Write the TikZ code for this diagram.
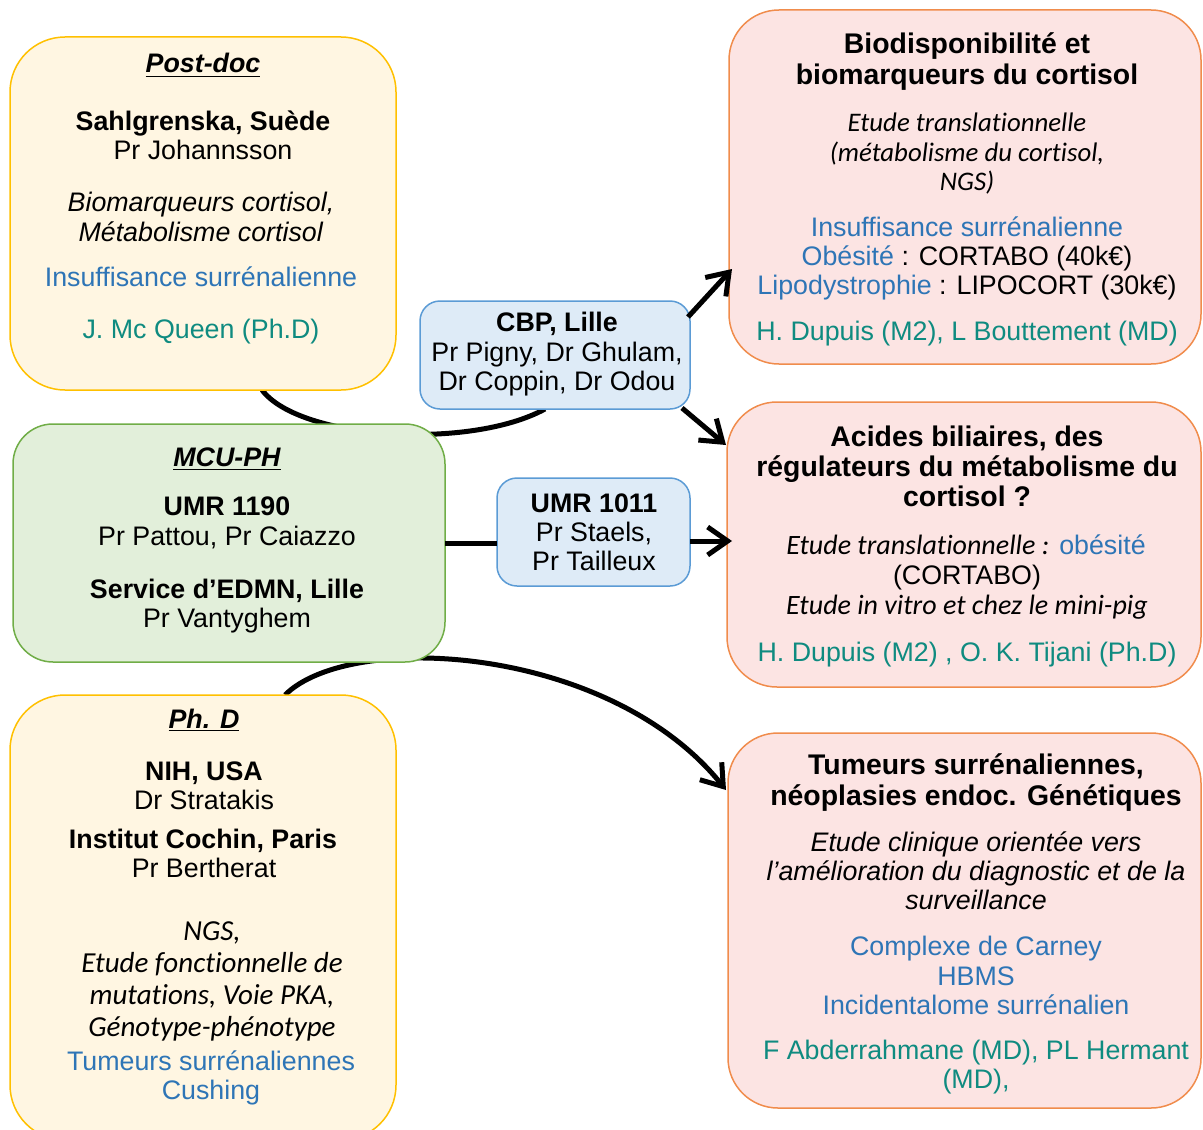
\documentclass[tikz,border=0pt]{standalone}
\usepackage{fontspec}
\setmainfont{Liberation Sans}
\newfontfamily\calfont{Carlito}[Ligatures=NoCommon]
\usetikzlibrary{arrows.meta,calc}
\definecolor{yfill}{HTML}{FFF6E2}
\definecolor{ydraw}{HTML}{FFC000}
\definecolor{gfill}{HTML}{E2EFDA}
\definecolor{gdraw}{HTML}{70AD47}
\definecolor{bfill}{HTML}{DEEBF7}
\definecolor{bdraw}{HTML}{5B9BD5}
\definecolor{pfill}{HTML}{FCE4E3}
\definecolor{pdraw}{HTML}{F08C4C}
\definecolor{tblue}{HTML}{2E75B6}
\definecolor{tteal}{HTML}{0F8B80}
\newcommand\fA{\fontsize{13.4pt}{16pt}\selectfont}
\newcommand\fT{\fontsize{14.2pt}{17pt}\selectfont}
\newcommand\fC{\calfont\itshape\fontsize{13.4pt}{16pt}\selectfont}
\newcommand\fCb{\calfont\itshape\fontsize{14.5pt}{17pt}\selectfont}
\newcommand\fCc{\calfont\itshape\fontsize{14pt}{17pt}\selectfont}
\pgfdeclarelayer{bg}
\pgfsetlayers{bg,main}
\begin{document}
\begin{tikzpicture}[x=0.5pt,y=-0.5pt,
  boxbase/.style={rectangle,inner sep=0pt,outer sep=0pt,line width=0.75pt},
  ybox/.style={boxbase,fill=yfill,draw=ydraw,rounded corners=27.5pt},
  gbox/.style={boxbase,fill=gfill,draw=gdraw,rounded corners=20pt},
  bbox/.style={boxbase,fill=bfill,draw=bdraw,rounded corners=10pt},
  pbox/.style={boxbase,fill=pfill,draw=pdraw,rounded corners=25pt},
  tl/.style={anchor=base,inner sep=0pt,outer sep=0pt,font=\fA},
  tt/.style={anchor=base,inner sep=0pt,outer sep=0pt,font=\fT\bfseries},
  conn/.style={line width=2.5pt,black},
  tip/.style={-{Straight Barb[length=10pt,width=14pt]}}]
\useasboundingbox (0,0) rectangle (1203,1129);

% boxes
\node[ybox,minimum width=193pt,minimum height=176.5pt] (pd) at (203,213.5) {};
\node[gbox,minimum width=216pt,minimum height=119pt] (mcu) at (229,543) {};
\node[ybox,minimum width=193pt,minimum height=222.5pt] (phd) at (203,917.5) {};
\node[bbox,minimum width=135pt,minimum height=54pt] (cbp) at (555,355) {};
\node[bbox,minimum width=96.5pt,minimum height=54pt] (umr) at (593.5,532) {};
\node[pbox,minimum width=236pt,minimum height=177pt] (r1) at (965,187) {};
\node[pbox,minimum width=237pt,minimum height=142.5pt] (r2) at (964,544.5) {};
\node[pbox,minimum width=236.5pt,minimum height=187.5pt] (r3) at (964.5,920.5) {};

% connectors behind boxes
\begin{pgfonlayer}{bg}
\draw[conn] ($(pd.south)+(59,0)$) .. controls ($(pd.south)+(97,50)$) and ($(cbp.south)+(-85,41)$) .. ($(cbp.south)+(-10,0)$);
\draw[conn,tip] ($(phd.north)+(82,0)$) .. controls ($(phd.north)+(147,-65)$) and ($(r3.north west)+(-118,-88)$) .. ($(r3.north west)+(-2,57)$);
\end{pgfonlayer}

% straight connectors
\draw[conn,tip] ($(cbp.north east)+(-2,16)$) -- ($(r1.north west)+(3,259)$);
\draw[conn,tip] ($(cbp.south east)+(-8,-1)$) -- ($(r2.north west)+(-1,43)$);
\draw[conn] (mcu.east) -- (mcu.east -| umr.west);
\draw[conn,tip] ($(umr.east)+(0,9)$) -- ($(umr.east -| r2.west)+(5,9)$);

% Post-doc
\node[tl] (pd1) at (203,73) {\textbf{\textit{\underline{Post-doc}}}};
\node[tl] (pd2) at (203,130) {\textbf{Sahlgrenska, Suède}};
\node[tl] (pd3) at (203,159) {Pr Johannsson};
\node[tl] (pd4) at (201,211) {\textit{Biomarqueurs cortisol,}};
\node[tl] (pd5) at (201,241) {\textit{Métabolisme cortisol}};
\node[tl,text=tblue] (pd6) at (201,286) {Insuffisance surrénalienne};
\node[tl,text=tteal] (pd7) at (201,338) {J. Mc Queen (Ph.D)};

% MCU-PH
\node[tl] (m1) at (227,466) {\textbf{\textit{\underline{MCU-PH}}}};
\node[tl] (m2) at (227,515) {\textbf{UMR 1190}};
\node[tl] (m3) at (227,545) {Pr Pattou, Pr Caiazzo};
\node[tl] (m4) at (227,598) {\textbf{Service d’EDMN, Lille}};
\node[tl] (m5) at (227,627) {Pr Vantyghem};

% Ph.D
\node[tl] (p1) at (204,728) {\textbf{\textit{\underline{Ph. D}}}};
\node[tl] (p2) at (204,780) {\textbf{NIH, USA}};
\node[tl] (p3) at (204,809) {Dr Stratakis};
\node[tl] (p4) at (203,848) {\textbf{Institut Cochin, Paris}};
\node[tl] (p5) at (204,877) {Pr Bertherat};
\node[tl,font=\fCb] (p6) at (212,940) {NGS,};
\node[tl,font=\fCb] (p7) at (212,972) {Etude fonctionnelle de};
\node[tl,font=\fCb] (p8) at (212,1004) {mutations, Voie PKA,};
\node[tl,font=\fCb] (p9) at (212,1036) {Génotype-phénotype};
\node[tl,text=tblue] (p10) at (211,1070) {Tumeurs surrénaliennes};
\node[tl,text=tblue] (p11) at (211,1099) {Cushing};

% CBP
\node[tl] (c1) at (557,331) {\textbf{CBP, Lille}};
\node[tl] (c2) at (557,361) {Pr Pigny, Dr Ghulam,};
\node[tl] (c3) at (557,390) {Dr Coppin, Dr Odou};

% UMR 1011
\node[tl] (u1) at (594,512) {\textbf{UMR 1011}};
\node[tl] (u2) at (594,541) {Pr Staels,};
\node[tl] (u3) at (594,570) {Pr Tailleux};

% Right 1
\node[tt] (a1) at (967,54) {Biodisponibilité et};
\node[tt] (a2) at (967,84) {biomarqueurs du cortisol};
\node[tl,font=\fC] (a3) at (967,131) {Etude translationnelle};
\node[tl,font=\fC] (a4) at (967,161) {(métabolisme du cortisol,};
\node[tl,font=\fC] (a5) at (967,190) {NGS)};
\node[tl,text=tblue] (a6) at (967,236) {Insuffisance surrénalienne};
\node[tl] (a7) at (967,265) {\textcolor{tblue}{Obésité} : CORTABO (40k€)};
\node[tl] (a8) at (967,294) {\textcolor{tblue}{Lipodystrophie} : LIPOCORT (30k€)};
\node[tl,text=tteal] (a9) at (967,340) {H. Dupuis (M2), L Bouttement (MD)};

% Right 2
\node[tt] (b1) at (967,446) {Acides biliaires, des};
\node[tt] (b2) at (967,476) {régulateurs du métabolisme du};
\node[tt] (b3) at (967,506) {cortisol ?};
\node[tl] (b4) at (966,554) {{\fCc Etude translationnelle :} \textcolor{tblue}{obésité}};
\node[tl] (b5) at (967,584) {(CORTABO)};
\node[tl,font=\fCc] (b6) at (967,614) {Etude in vitro et chez le mini-pig};
\node[tl,text=tteal] (b7) at (967,661) {H. Dupuis (M2) , O. K. Tijani (Ph.D)};

% Right 3
\node[tt] (d1) at (976,774) {Tumeurs surrénaliennes,};
\node[tt] (d2) at (976,805) {néoplasies endoc. Génétiques};
\node[tl] (d3) at (976,851) {\textit{Etude clinique orientée vers}};
\node[tl] (d4) at (976,880) {\textit{l’amélioration du diagnostic et de la}};
\node[tl] (d5) at (976,909) {\textit{surveillance}};
\node[tl,text=tblue] (d6) at (976,955) {Complexe de Carney};
\node[tl,text=tblue] (d7) at (976,985) {HBMS};
\node[tl,text=tblue] (d8) at (976,1014) {Incidentalome surrénalien};
\node[tl,text=tteal] (d9) at (976,1059) {F Abderrahmane (MD), PL Hermant};
\node[tl,text=tteal] (d10) at (976,1088) {(MD),};
\end{tikzpicture}
\end{document}
